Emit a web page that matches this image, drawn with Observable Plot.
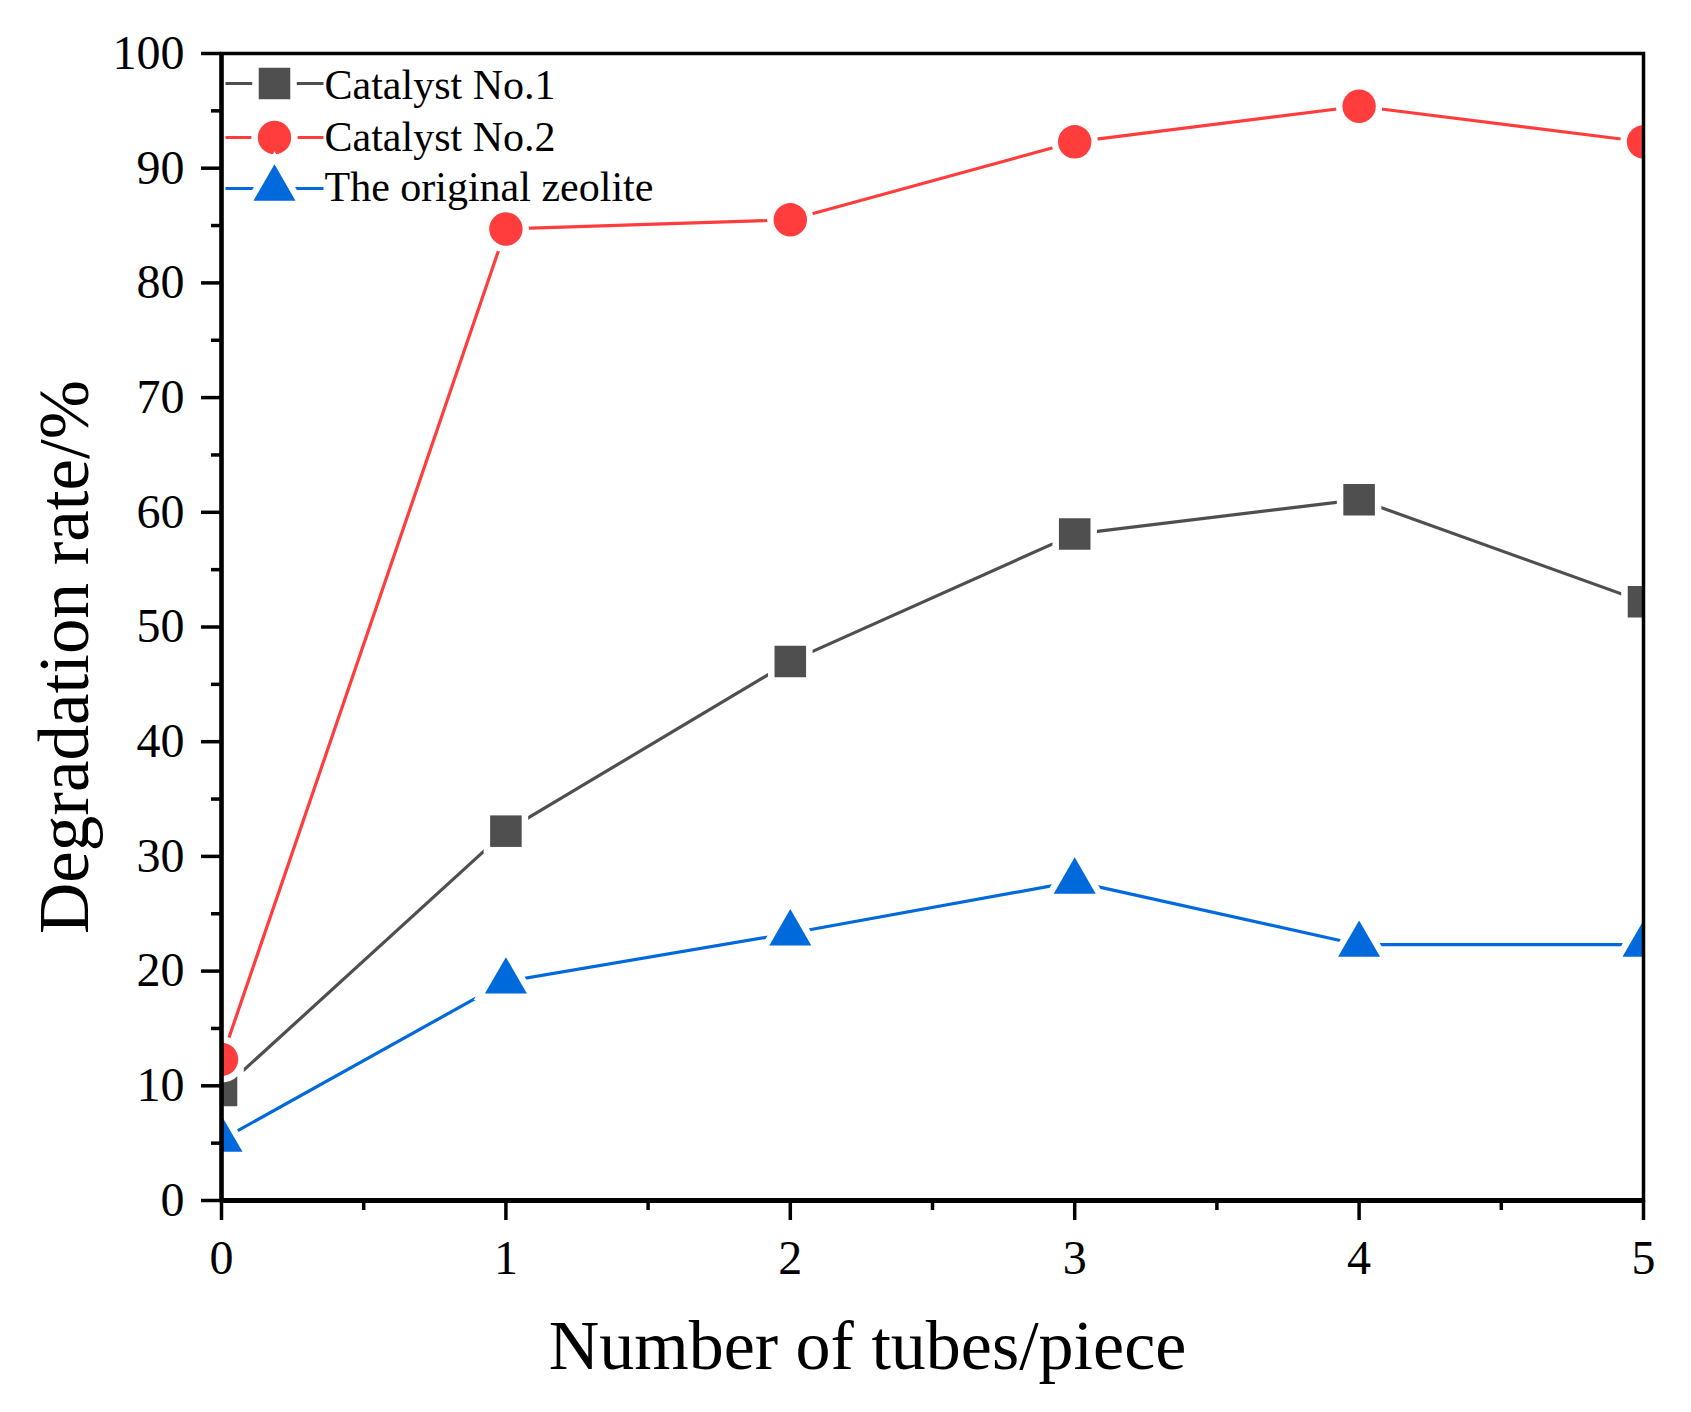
<!DOCTYPE html>
<html><head><meta charset="utf-8">
<script src="https://cdn.jsdelivr.net/npm/d3@7"></script>
<script src="https://cdn.jsdelivr.net/npm/@observablehq/plot@0.6"></script>
<style>body{margin:0;background:#fff}</style>
</head><body><div id="chart"></div>
<script>
// ---- data ----
const tubes = [0, 1, 2, 3, 4, 5];
const catalyst1 = [9.6, 32.2, 47.0, 58.1, 61.1, 52.2];
const catalyst2 = [12.3, 84.7, 85.5, 92.3, 95.4, 92.3];
const zeolite = [5.3, 19.1, 23.3, 27.8, 22.3, 22.3];
const seriesNames = ["Catalyst No.1", "Catalyst No.2", "The original zeolite"];
const yTicks = [0, 10, 20, 30, 40, 50, 60, 70, 80, 90, 100];
const yMinor = [5, 15, 25, 35, 45, 55, 65, 75, 85, 95];
const xTicks = [0, 1, 2, 3, 4, 5];
const xMinor = [0.5, 1.5, 2.5, 3.5, 4.5];
const xLabel = "Number of tubes/piece";
const yLabel = "Degradation rate/%";

// ---- styles ----
const colors = ["#4f4f4f", "#ff3d3d", "#0069dc"];
const symbols = [d3.symbolSquare, d3.symbolCircle, d3.symbolTriangle];
const radii = [17.8, 16.7, 15.6];
const values = [catalyst1, catalyst2, zeolite];

const legendLine = {draw(ctx) { ctx.moveTo(-49, -1.6); ctx.lineTo(49, -1.6); ctx.lineTo(49, 1.6); ctx.lineTo(-49, 1.6); ctx.closePath(); }};
const legendMarkerDy = [30, 84, 135];
const legendTextDy = [32, 84, 134];

const marks = [];
values.forEach((vals, i) => {
  const rows = tubes.map((x, j) => ({x, y: vals[j]}));
  marks.push(Plot.line(rows, {x: "x", y: "y", stroke: colors[i], strokeWidth: 3.2, clip: "frame"}));
});
values.forEach((vals, i) => {
  const rows = tubes.map((x, j) => ({x, y: vals[j]}));
  marks.push(Plot.dot(rows, {x: "x", y: "y", symbol: symbols[i], r: radii[i], fill: colors[i],
    stroke: "white", strokeWidth: 13, paintOrder: "stroke", clip: "frame"}));
});
// legend
seriesNames.forEach((name, i) => {
  marks.push(Plot.dot([name], {frameAnchor: "top-left", dx: 53, dy: legendMarkerDy[i], symbol: legendLine, r: 10, fill: colors[i], stroke: "none"}));
  marks.push(Plot.dot([name], {frameAnchor: "top-left", dx: 53, dy: legendMarkerDy[i], symbol: symbols[i], r: radii[i], fill: colors[i], stroke: "white", strokeWidth: 13, paintOrder: "stroke"}));
  marks.push(Plot.text([name], {frameAnchor: "top-left", dx: 103, dy: legendTextDy[i], text: d => d, textAnchor: "start", lineAnchor: "middle", fontSize: 42, fill: "black"}));
});
// axes
marks.push(Plot.axisY({ticks: yMinor, tickSize: 10, text: null, strokeWidth: 3.5, label: null}));
marks.push(Plot.axisY({ticks: yTicks, tickSize: 20, tickPadding: 17, fontSize: 48, strokeWidth: 3.5, label: null, tickFormat: d => String(d)}));
marks.push(Plot.axisX({ticks: xMinor, tickSize: 10, text: null, strokeWidth: 3.5, label: null}));
marks.push(Plot.axisX({ticks: xTicks, tickSize: 20, tickPadding: 19, fontSize: 48, strokeWidth: 3.5, label: null, tickFormat: d => String(d)}));
marks.push(Plot.frame({stroke: "black", strokeWidth: 3.5}));
marks.push(Plot.ruleX([0], {stroke: "black", strokeWidth: 4.5}));
marks.push(Plot.ruleY([0], {stroke: "black", strokeWidth: 5}));
// titles
marks.push(Plot.text([yLabel], {frameAnchor: "left", rotate: -90, dx: -156, dy: 30, text: d => d, fontSize: 71, textAnchor: "middle", lineAnchor: "middle", fill: "black"}));
marks.push(Plot.text([xLabel], {frameAnchor: "bottom", dx: -65, dy: 146, text: d => d, fontSize: 70, textAnchor: "middle", lineAnchor: "middle", fill: "black"}));

const chart = Plot.plot({
  width: 1691,
  height: 1412,
  marginLeft: 221,
  marginRight: 48,
  marginTop: 53,
  marginBottom: 212,
  style: {fontFamily: "'Liberation Serif', 'Times New Roman', serif", background: "white", color: "black"},
  x: {domain: [0, 5]},
  y: {domain: [0, 100]},
  marks
});
document.getElementById("chart").appendChild(chart);
</script>
</body></html>
